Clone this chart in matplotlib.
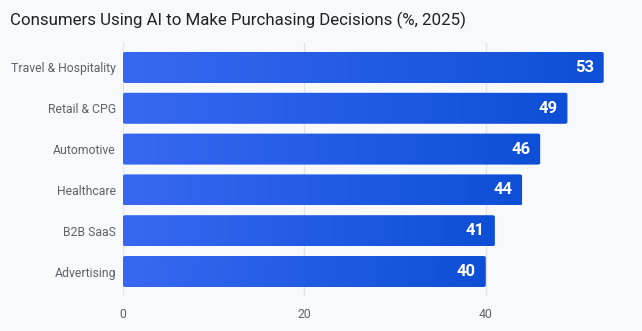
import numpy as np
import matplotlib
matplotlib.use("Agg")
import matplotlib.pyplot as plt
from matplotlib.patches import FancyBboxPatch
from matplotlib.colors import LinearSegmentedColormap

categories = ["Travel & Hospitality", "Retail & CPG", "Automotive", "Healthcare", "B2B SaaS", "Advertising"]
values = [53, 49, 46, 44, 41, 40]
x_ticks = [0, 20, 40]

plt.rcParams["font.family"] = ["Roboto", "DejaVu Sans"]
bg = "#f8f9fb"

fig = plt.figure(figsize=(6.42, 3.31), dpi=100, facecolor=bg)
ax = fig.add_axes([123 / 642, 1 - 296 / 331, (630 - 123) / 642, (296 - 43) / 331], facecolor=bg)

cmap = LinearSegmentedColormap.from_list("bar", ["#3868f2", "#0d4fd6"])
grad = np.linspace(0, 1, 256).reshape(1, -1)

ypos = np.arange(len(categories))
bars = ax.barh(ypos, values, height=0.76, color="none")
for bar, v in zip(bars, values):
    x0, y0 = bar.get_x(), bar.get_y()
    w, h = bar.get_width(), bar.get_height()
    # rounded bar outline used as clip for the gradient image
    patch = FancyBboxPatch((x0, y0), w, h, boxstyle="round,pad=0,rounding_size=0.3",
                           mutation_aspect=0.12, facecolor="none", edgecolor="none")
    ax.add_patch(patch)
    im = ax.imshow(grad, extent=(x0, x0 + w, y0, y0 + h), aspect="auto", cmap=cmap,
                   zorder=2, origin="lower")
    im.set_clip_path(patch)
    ax.text(x0 + w - 1.1, y0 + h / 2, str(v), ha="right", va="center",
            color="white", fontsize=12, fontweight="bold", zorder=3)

ax.set_xlim(0, 55.9)
ax.set_ylim(len(categories) - 0.4, -0.6)
ax.set_yticks(ypos)
ax.set_yticklabels(categories)
ax.set_xticks(x_ticks)
ax.tick_params(axis="both", length=0, colors="#5f6368", labelsize=8.8)
ax.tick_params(axis="x", pad=9)
ax.tick_params(axis="y", pad=5)
ax.grid(axis="x", color="#e3e5e8", linewidth=1, zorder=0)
ax.set_axisbelow(True)
for s in ax.spines.values():
    s.set_visible(False)

fig.text(10 / 642, 1 - 20 / 331, "Consumers Using AI to Make Purchasing Decisions (%, 2025)",
         fontsize=12.2, color="#202124", va="center", ha="left")

fig.savefig("out.png", dpi=100, facecolor=bg)
